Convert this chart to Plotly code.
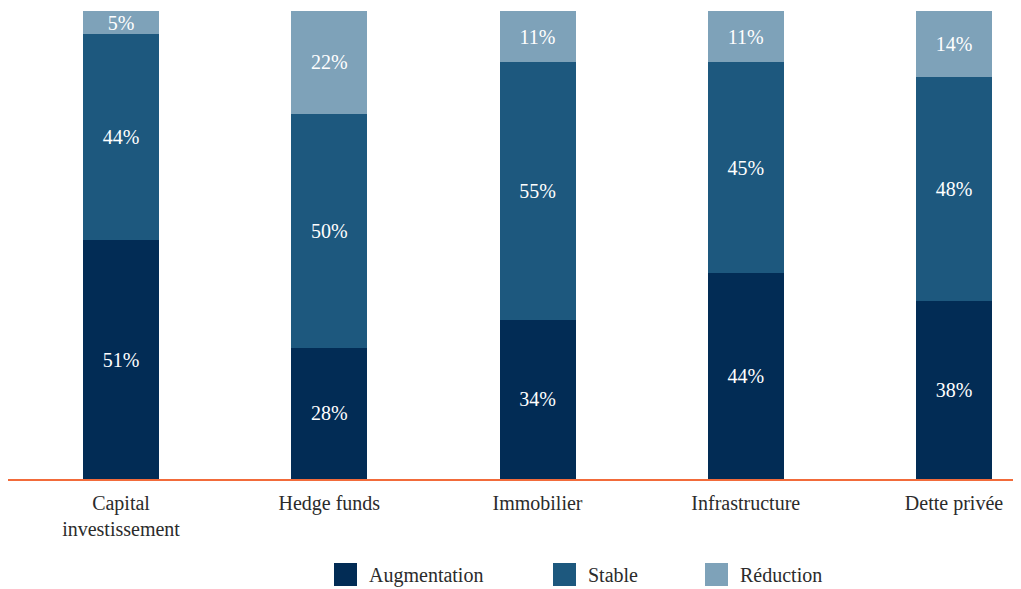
import plotly.graph_objects as go

# Survey data: share of respondents per asset class
categories = ["Capital<br>investissement", "Hedge funds", "Immobilier", "Infrastructure", "Dette privée"]
augmentation = [51, 28, 34, 44, 38]
stable = [44, 50, 55, 45, 48]
reduction = [5, 22, 11, 11, 14]

series_names = ["Augmentation", "Stable", "Réduction"]

COLORS = {
    "Augmentation": "#022c55",
    "Stable": "#1d587e",
    "Réduction": "#7ea2b9",
    "axis": "#f26b3a",
    "text": "#2b2b2b",
}
FONT = "Liberation Serif, DejaVu Serif, serif"

fig = go.Figure()
for name, values in zip(series_names, [augmentation, stable, reduction]):
    fig.add_trace(go.Bar(
        x=list(range(len(categories))), y=values, name=name,
        marker=dict(color=COLORS[name], line_width=0),
        text=[f"{v}%" for v in values],
        textposition="inside", insidetextanchor="middle",
        textfont=dict(color="white", size=20, family=FONT),
        width=0.365, showlegend=False,
    ))

# page body has an 8px margin, so the figure is sized to fit the window
W, H = 1013, 581
PLOT_H = 468  # plot area height in px

# custom legend with large square swatches (page-pixel positions)
legend_items = [("Augmentation", 334, 367), ("Stable", 553, 586), ("Réduction", 705, 738)]
for name, sx, tx in legend_items:
    fig.add_shape(type="rect", xref="paper", yref="paper",
                  x0=(sx - 8) / W, x1=(sx + 23 - 8) / W,
                  y0=-(563 - 479) / PLOT_H, y1=-(586 - 479) / PLOT_H,
                  fillcolor=COLORS[name], line_width=0)
    fig.add_annotation(text=name, xref="paper", yref="paper",
                       x=(tx - 8) / W, y=-(575 - 479) / PLOT_H,
                       xanchor="left", yanchor="middle", showarrow=False,
                       font=dict(size=20, color=COLORS["text"], family=FONT))

fig.update_layout(
    barmode="stack",
    width=W, height=H,
    margin=dict(l=0, r=0, t=3, b=110),
    plot_bgcolor="white", paper_bgcolor="white",
    font=dict(family=FONT, size=20, color=COLORS["text"]),
    uniformtext=dict(minsize=20, mode="show"),
)
fig.update_xaxes(
    tickmode="array", tickvals=list(range(len(categories))), ticktext=categories,
    range=[-0.5426, 4.3217], showline=True, linecolor=COLORS["axis"], linewidth=2,
    showgrid=False, zeroline=False, ticks="", ticklabelstandoff=5,
    tickfont=dict(size=20, color=COLORS["text"], family=FONT),
)
fig.update_yaxes(range=[0, 100], visible=False, showgrid=False, zeroline=False)

fig.write_html("out.html")
